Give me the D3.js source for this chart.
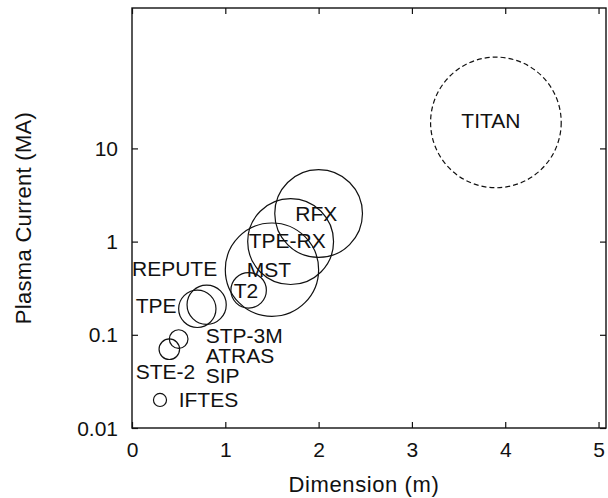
<!DOCTYPE html>
<html>
<head>
<meta charset="utf-8">
<script src="https://cdn.jsdelivr.net/npm/d3@7"></script>
<style>
  body { margin: 0; background: #fff; }
  svg text { font-family: "Liberation Sans", Arial, sans-serif; fill: #111; }
</style>
</head>
<body>
<div id="chart"></div>
<script>
// Device data
const names     = ["TITAN", "RFX", "TPE-RX", "MST", "T2", "REPUTE", "TPE", "STP-3M", "STE-2", "IFTES"];
const dimension = [3.9, 2.0, 1.7, 1.5, 1.25, 0.8, 0.7, 0.5, 0.4, 0.3];
const current   = [19, 2.0, 1.0, 0.5, 0.3, 0.21, 0.19, 0.09, 0.07, 0.02];
const size      = [0.70, 0.47, 0.46, 0.50, 0.19, 0.21, 0.20, 0.10, 0.11, 0.07];
const planned   = [true, false, false, false, false, false, false, false, false, false];

// Labels (left edge / baseline, in data units)
const labelText = ["TITAN", "RFX", "TPE-RX", "MST", "T2", "REPUTE", "TPE", "STP-3M", "ATRAS", "SIP", "STE-2", "IFTES"];
const labelDim  = [3.53, 1.75, 1.25, 1.23, 1.09, 0.0, 0.04, 0.79, 0.79, 0.79, 0.04, 0.50];
const labelCur  = [16.7, 1.68, 0.86, 0.42, 0.251, 0.432, 0.173, 0.0825, 0.0503, 0.0307, 0.0339, 0.0166];

// Tick labels
const xTicks = [0, 1, 2, 3, 4, 5];
const yTicks = [0.01, 0.1, 1, 10];
const yTickLabels = ["0.01", "0.1", "1", "10"];

const margin = { top: 8, right: 2, bottom: 70, left: 132 };
const width = 608 - margin.left - margin.right;
const height = 498 - margin.top - margin.bottom;

const svg = d3.select("#chart")
    .append("svg")
    .attr("width", 608)
    .attr("height", 498)
    .append("g")
    .attr("transform", `translate(${margin.left},${margin.top})`);

const xScale = d3.scaleLinear().domain([0, 5.08]).range([0, width]);
const yScale = d3.scaleLog().domain([0.01, 321]).range([height, 0]);

// Axes, ticks pointing inward
const fontSize = 21;
svg.append("g")
    .attr("transform", `translate(0,${height})`)
    .call(d3.axisBottom(xScale).tickValues(xTicks).tickFormat(d3.format("d")).tickSize(-6))
    .call(g => g.select(".domain").remove())
    .call(g => g.selectAll("text").attr("y", 29).attr("dy", 0).style("font-size", fontSize + "px"));

svg.append("g")
    .call(d3.axisLeft(yScale).tickValues(yTicks).tickFormat((d, i) => yTickLabels[i]).tickSize(-6))
    .call(g => g.select(".domain").remove())
    .call(g => g.selectAll("text").attr("x", -14).attr("dy", "0.34em").style("font-size", fontSize + "px"));

svg.append("g")
    .call(d3.axisTop(xScale).tickValues(xTicks).tickFormat("").tickSize(-6))
    .call(g => g.select(".domain").remove());

svg.append("g")
    .attr("transform", `translate(${width},0)`)
    .call(d3.axisRight(yScale).tickValues(yTicks).tickFormat("").tickSize(-6))
    .call(g => g.select(".domain").remove());

svg.selectAll(".tick line").attr("stroke", "#111").attr("stroke-width", 1.2);

// Frame
svg.append("rect")
    .attr("width", width)
    .attr("height", height)
    .attr("fill", "none")
    .attr("stroke", "#111")
    .attr("stroke-width", 1.4);

// Circles
const devices = names.map((n, i) => ({ name: n, x: dimension[i], y: current[i], r: size[i], planned: planned[i] }));

svg.selectAll(".device")
    .data(devices)
    .enter()
    .append("circle")
    .attr("class", "device")
    .attr("cx", d => xScale(d.x))
    .attr("cy", d => yScale(d.y))
    .attr("r", d => xScale(d.r) - xScale(0))
    .attr("fill", "none")
    .attr("stroke", "#111")
    .attr("stroke-width", 1.2)
    .attr("stroke-dasharray", d => d.planned ? "5,3" : null);

// Labels
svg.selectAll(".label")
    .data(labelText)
    .enter()
    .append("text")
    .attr("class", "label")
    .attr("x", (d, i) => xScale(labelDim[i]))
    .attr("y", (d, i) => yScale(labelCur[i]))
    .style("font-size", fontSize + "px")
    .text(d => d);

// Axis titles
svg.append("text")
    .attr("x", width / 2 - 5)
    .attr("y", height + 64)
    .attr("text-anchor", "middle")
    .style("font-size", "22px")
    .style("letter-spacing", "0.6px")
    .text("Dimension (m)");

svg.append("text")
    .attr("transform", `translate(${31 - margin.left},${218 - margin.top}) rotate(-90)`)
    .attr("text-anchor", "middle")
    .style("font-size", "22px")
    .style("letter-spacing", "0.3px")
    .text("Plasma Current (MA)");
</script>
</body>
</html>
